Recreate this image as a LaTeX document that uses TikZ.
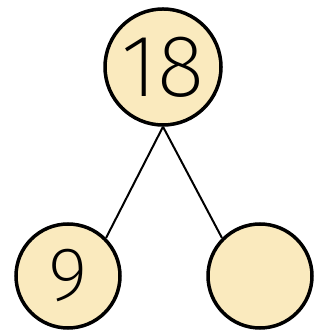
\documentclass[tikz,border=0pt]{standalone}
\usepackage{fontspec}
\newfontfamily\numfont{Fira Sans ExtraLight}
\usetikzlibrary{positioning}

\definecolor{paper}{RGB}{250,234,190}

\begin{document}
\begin{tikzpicture}[x=1pt,y=1pt,
  bubble/.style={circle,draw=black,line width=3.5pt,fill=paper,inner sep=0pt},
  link/.style={line width=2pt,black}]
% Frame
\useasboundingbox (0,0) rectangle (321,336);

% Whole
\node[bubble,minimum size=116pt] (whole) at (163,269)
  {\numfont\fontsize{88}{88}\selectfont 18};

% Parts
\node[bubble,minimum size=104pt] (partA) at (68,60)
  {\numfont\fontsize{76}{76}\selectfont 9};
\node[bubble,minimum size=104pt] (partB) at (260,60) {};

% Links
\draw[link] (whole.south) -- (partA.45);
\draw[link] (whole.south) -- (partB.135);
\end{tikzpicture}
\end{document}
